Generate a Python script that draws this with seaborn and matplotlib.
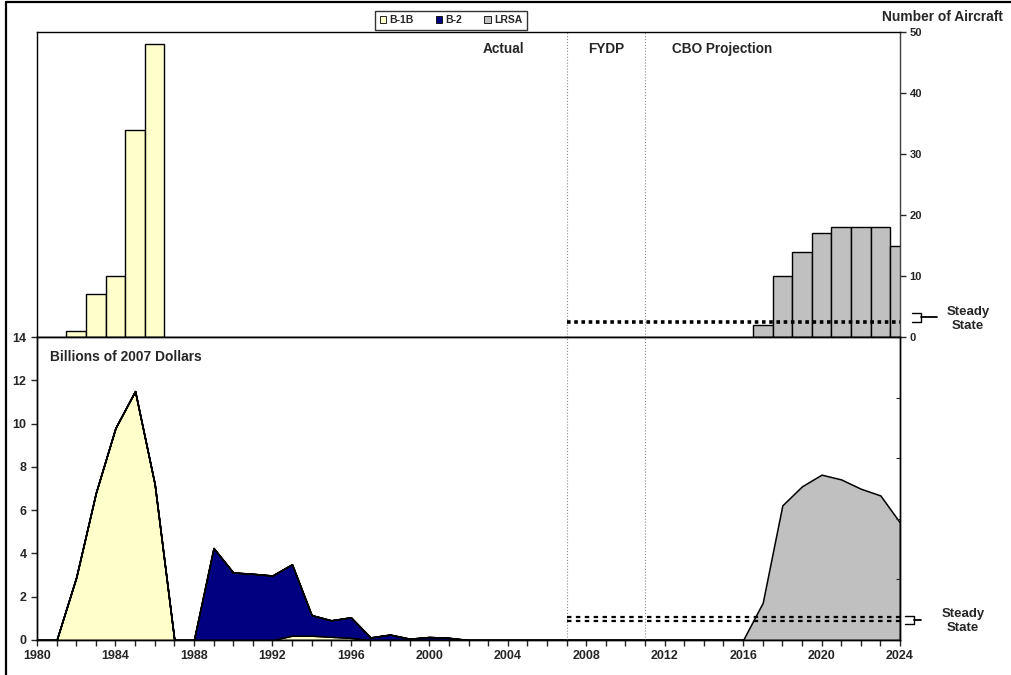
import numpy as np
import pandas as pd
import matplotlib.pyplot as plt
import seaborn as sns
from matplotlib.lines import Line2D
from matplotlib.patches import Patch

## Bomber procurement: aircraft bought (top) and cost (bottom), actual + CBO projection

years = list(range(1980, 2025))

# cost per year, billions of 2007 dollars (stacked: B-1B, B-2, LRSA)
b1b_cost = [0, 0, 2.9, 6.8, 9.8, 11.5, 7.2, 0, 0, 0, 0, 0, 0, 0.2, 0.2, 0.15, 0.1,
            0, 0, 0, 0, 0, 0, 0, 0, 0, 0, 0, 0, 0, 0, 0, 0, 0, 0, 0, 0,
            0, 0, 0, 0, 0, 0, 0, 0]
b2_cost = [0, 0, 0, 0, 0, 0, 0, 0, 0, 4.25, 3.12, 3.06, 2.98, 3.3, 0.95, 0.76, 0.95,
           0.12, 0.25, 0.06, 0.14, 0.1, 0, 0, 0, 0, 0, 0, 0, 0, 0, 0, 0, 0, 0, 0, 0,
           0, 0, 0, 0, 0, 0, 0, 0]
lrsa_cost = [0] * 36 + [0, 1.72, 6.22, 7.1, 7.64, 7.42, 6.99, 6.68, 5.42]

# number of aircraft bought per year
b1b_bar_years = [1982, 1983, 1984, 1985, 1986]
b1b_bar_counts = [1, 7, 10, 34, 48]
lrsa_bar_years = [2017, 2018, 2019, 2020, 2021, 2022, 2023, 2024]
lrsa_bar_counts = [2, 10, 14, 17, 18, 18, 18, 15]

steady_aircraft = 2.5
steady_cost = [0.9, 1.05]
period_breaks = [2007, 2011]

colors = {"B-1B": "#FFFFCC", "B-2": "#000080", "LRSA": "#C0C0C0"}

bars = pd.concat([
    pd.DataFrame({"Year": b1b_bar_years, "Count": b1b_bar_counts, "Aircraft": "B-1B"}),
    pd.DataFrame({"Year": lrsa_bar_years, "Count": lrsa_bar_counts, "Aircraft": "LRSA"}),
])

sns.set_style("ticks")
plt.rcParams["font.family"] = ["Liberation Sans", "DejaVu Sans"]
plt.rcParams["font.weight"] = "bold"

W, H = 1011, 675
fig = plt.figure(figsize=(W / 100, H / 100), dpi=100)
ax_top = fig.add_axes([37 / W, 1 - 337 / H, 863 / W, 305 / H])
ax_bot = fig.add_axes([37 / W, 1 - 640 / H, 863 / W, 303 / H])

# --- top: number of aircraft
sns.barplot(data=bars, x="Year", y="Count", hue="Aircraft", hue_order=["B-1B", "LRSA"],
            palette=colors, native_scale=True, dodge=False, width=1, errorbar=None,
            saturation=1, edgecolor="black", linewidth=1, legend=False, ax=ax_top)
ax_top.set_xlim(1980, 2024)
ax_top.set_ylim(0, 50)
ax_top.set_xticks([])
ax_top.set_xlabel("")
ax_top.set_ylabel("")
ax_top.yaxis.tick_right()
ax_top.set_yticks(range(0, 51, 10))
ax_top.tick_params(axis="y", length=4, width=1, pad=3, labelsize=8)
ax_top.hlines(steady_aircraft, period_breaks[0], 2024, colors="black",
              linestyles=(0, (1, 1)), linewidth=2.6, zorder=5)
for x in period_breaks:
    ax_top.axvline(x, color="#8c8c8c", lw=0.8, ls=":", zorder=1)
for lab, x in [("Actual", 2003.8), ("FYDP", 2009.0), ("CBO Projection", 2014.95)]:
    ax_top.text(x, 47.2, lab, ha="center", va="center", fontsize=9.8, fontweight="bold")

# --- bottom: cost
ax_bot.stackplot(years, b1b_cost, b2_cost, lrsa_cost,
                 colors=[colors["B-1B"], colors["B-2"], colors["LRSA"]],
                 edgecolor="black", linewidth=1.1)
ax_bot.hlines(steady_cost, period_breaks[0], 2024, colors="black",
              linestyles=(0, (2, 2)), linewidth=1.6, zorder=5)
for x in period_breaks:
    ax_bot.axvline(x, color="#8c8c8c", lw=0.8, ls=":", zorder=1)
ax_bot.set_xlim(1980, 2024)
ax_bot.set_ylim(0, 14)
ax_bot.set_yticks(range(0, 15, 2))
ax_bot.set_xticks(range(1980, 2025, 4))
ax_bot.set_xticks(range(1980, 2025), minor=True)
ax_bot.tick_params(axis="x", which="both", length=4, width=1, labelsize=9)
ax_bot.tick_params(axis="y", length=4, width=1, labelsize=9)
ax_bot.text(0.015, 0.934, "Billions of 2007 Dollars", transform=ax_bot.transAxes,
            ha="left", va="center", fontsize=9.9, fontweight="bold")
ax_r = ax_bot.twinx()
ax_r.set_ylim(0, 5)
ax_r.set_yticks(range(6))
ax_r.tick_params(axis="y", direction="in", length=3, labelright=False)

for ax in (ax_top, ax_bot, ax_r):
    for s in ax.spines.values():
        s.set_linewidth(1)
        s.set_color("black")
ax_top.spines["right"].set_color("#404040")

# axis title, legend and steady-state notes
fig.text(1003 / W, 1 - 17 / H, "Number of Aircraft", ha="right", va="center",
         fontsize=9.9, fontweight="bold")
handles = [Patch(facecolor=colors[k], edgecolor="black", linewidth=0.6, label=k)
           for k in ["B-1B", "B-2", "LRSA"]]
fig.legend(handles=handles, loc="upper center", bbox_to_anchor=(451 / W, 1 - 6 / H),
           ncol=3, frameon=True, fancybox=False, edgecolor="black",
           handlelength=0.6, handleheight=0.6, handletextpad=0.35, columnspacing=2.1,
           borderpad=0.4, prop={"weight": "bold", "size": 7.5})

def bracket(x0, y0, y1, x_end):
    xm = x0 + 9
    ym = (y0 + y1) / 2
    px = [x0, xm, xm, x0]
    py = [y0, y0, y1, y1]
    fig.add_artist(Line2D([p / W for p in px], [1 - p / H for p in py],
                          color="black", lw=1, transform=fig.transFigure))
    fig.add_artist(Line2D([xm / W, x_end / W], [1 - ym / H, 1 - ym / H],
                          color="black", lw=1.3, transform=fig.transFigure))

bracket(912, 313, 322, 937)
fig.text(968 / W, 1 - 319 / H, "Steady\nState", ha="center", va="center",
         fontsize=9.5, fontweight="bold", linespacing=1.15)
bracket(905, 616, 624, 921)
fig.text(963 / W, 1 - 621 / H, "Steady\nState", ha="center", va="center",
         fontsize=9.5, fontweight="bold", linespacing=1.15)

# outer frame (left and top edges)
fig.add_artist(Line2D([6 / W, 6 / W], [0, 1 - 2 / H], color="black", lw=1.6,
                      transform=fig.transFigure))
fig.add_artist(Line2D([6 / W, 1], [1 - 2 / H, 1 - 2 / H], color="black", lw=1.6,
                      transform=fig.transFigure))

fig.savefig("out.png", dpi=100)
